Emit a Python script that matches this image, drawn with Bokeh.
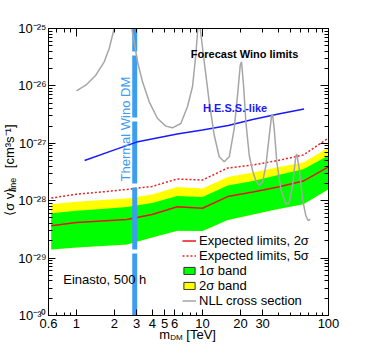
import math
from bokeh.plotting import figure
from bokeh.models import (Range1d, FixedTicker, CustomJSTickFormatter, LogAxis,
                          Legend, LegendItem, Label)
from bokeh.embed import file_html
from bokeh.resources import INLINE

# ---------------- data ----------------
mass = [0.631, 1.0, 1.585, 2.512, 3.981, 6.31, 10.0, 15.85, 25.12, 39.81, 63.1, 100.0]
exp_2sigma = [3.65e-29, 4.17e-29, 4.43e-29, 4.70e-29, 5.75e-29, 7.83e-29,
              7.40e-29, 1.18e-28, 1.42e-28, 1.73e-28, 2.20e-28, 3.87e-28]
exp_5sigma = [1.11e-28, 1.30e-28, 1.42e-28, 1.57e-28, 1.77e-28, 2.39e-28,
              2.29e-28, 3.71e-28, 4.19e-28, 5.02e-28, 6.25e-28, 1.24e-27]
band1_lo = [1.41e-29, 1.53e-29, 1.62e-29, 1.73e-29, 2.29e-29, 2.99e-29,
            2.97e-29, 4.61e-29, 5.75e-29, 7.17e-29, 8.69e-29, 1.59e-28]
band1_hi = [6.05e-29, 6.67e-29, 7.17e-29, 7.77e-29, 9.12e-29, 1.21e-28,
            1.16e-28, 1.84e-28, 2.20e-28, 2.80e-28, 3.54e-28, 6.13e-28]
band2_lo = [1.41e-29, 1.53e-29, 1.62e-29, 1.73e-29, 2.29e-29, 2.99e-29,
            2.97e-29, 4.61e-29, 5.75e-29, 7.17e-29, 8.69e-29, 1.59e-28]
band2_hi = [8.69e-29, 9.57e-29, 1.03e-28, 1.09e-28, 1.28e-28, 1.73e-28,
            1.63e-28, 2.59e-28, 3.10e-28, 3.82e-28, 4.63e-28, 8.45e-28]

hess_mass = [1.16, 2.0, 3.0, 6.3, 10.0, 16.0, 25.0, 40.0, 64.0]
hess_limit = [5.02e-28, 7.67e-28, 1.05e-27, 1.45e-27, 1.70e-27, 2.04e-27,
              2.60e-27, 3.24e-27, 3.96e-27]

nll_mass = [1.00, 1.186, 1.424, 1.661, 1.819, 1.932, 1.994, 2.32, 2.750, 2.873,
            3.051, 3.344, 3.779, 4.399, 5.120, 5.785, 6.733, 7.609, 8.339, 8.856,
            9.135, 9.305, 9.598, 10.33, 11.31, 12.40, 13.58, 14.88, 16.31, 17.86,
            18.98, 19.94, 20.41, 21.18, 22.09, 23.50, 24.96, 26.51, 28.21, 29.97,
            31.83, 33.87, 35.32, 35.97, 37.11, 38.92, 41.88, 45.87, 48.81, 51.84,
            55.06, 56.08, 58.61, 62.25, 66.12, 69.07, 71.65]
nll_sigma = [8.21e-27, 1.028e-26, 1.536e-26, 2.63e-26, 4.48e-26, 7.64e-26, 1.0e-25,
             3.0e-25, 1.0e-25, 5.87e-26, 2.63e-26, 1.178e-26, 5.28e-27, 2.70e-27,
             1.99e-27, 1.86e-27, 2.21e-27, 4.38e-27, 9.76e-27, 3.52e-26, 8.52e-26,
             2.0e-25, 1.0e-25, 2.63e-26, 5.28e-27, 1.38e-27, 5.82e-28, 4.76e-28,
             5.82e-28, 1.81e-27, 6.89e-27, 2.29e-26, 2.63e-26, 1.028e-26, 2.37e-27,
             6.20e-28, 3.36e-28, 2.22e-28, 1.86e-28, 2.08e-28, 4.06e-28, 1.35e-27,
             3.01e-27, 3.21e-27, 1.76e-27, 4.63e-28, 1.59e-28, 8.69e-29, 9.30e-29,
             1.82e-28, 6.06e-28, 6.46e-28, 3.54e-28, 1.06e-28, 5.46e-29, 4.47e-29,
             4.76e-29]

wino_mass = [2.9]
wino_lo = [1e-30]
wino_hi = [1e-25]

x_ticks = [0.6, 1, 2, 3, 4, 5, 6, 10, 20, 30, 100]
x_minor = [0.7, 0.8, 0.9, 7, 8, 9, 40, 50, 60, 70, 80, 90]
top_major = [1, 10, 100]
top_minor = [0.6, 0.7, 0.8, 0.9, 2, 3, 4, 5, 6, 7, 8, 9, 20, 30, 40, 50, 60, 70, 80, 90]
y_ticks = [1e-30, 1e-29, 1e-28, 1e-27, 1e-26, 1e-25]
y_minor = [k * 10.0 ** e for e in range(-30, -25) for k in range(2, 10)]

FONT = "Liberation Sans"
WINO_BLUE = "#3d9df0"

p = figure(frame_width=280, frame_height=287, x_axis_type="log", y_axis_type="log",
           x_range=Range1d(0.6, 100), y_range=Range1d(1e-30, 1e-25),
           output_backend="svg", toolbar_location=None,
           min_border_left=48, min_border_right=30, min_border_top=28, min_border_bottom=28)
p.grid.visible = False
p.outline_line_color = "black"
p.outline_line_width = 1
p.background_fill_color = "white"
p.border_fill_color = "white"

sup_code = """
const sup = {'-':'\u207b','0':'\u2070','1':'\u00b9','2':'\u00b2','3':'\u00b3','4':'\u2074',
             '5':'\u2075','6':'\u2076','7':'\u2077','8':'\u2078','9':'\u2079'};
const e = Math.round(Math.log10(tick));
return '10' + String(e).split('').map(c => sup[c]).join('');
"""

# bottom axis
xa = p.xaxis[0]
xa.ticker = FixedTicker(ticks=x_ticks, minor_ticks=x_minor)
xa.formatter = CustomJSTickFormatter(code="return String(Number(tick.toPrecision(3)));")
# left axis
ya = p.yaxis[0]
ya.ticker = FixedTicker(ticks=y_ticks, minor_ticks=y_minor)
ya.formatter = CustomJSTickFormatter(code=sup_code)
for ax, big in ((xa, 6), (ya, 7)):
    ax.major_tick_in = big
    ax.major_tick_out = 0
    ax.minor_tick_in = 3 if ax is xa else 4
    ax.minor_tick_out = 0
    ax.axis_line_color = "black"
    ax.major_tick_line_color = "black"
    ax.minor_tick_line_color = "black"
    ax.major_label_text_font = FONT
    ax.major_label_text_font_size = "13px"
    ax.major_label_text_color = "black"
xa.major_label_standoff = 3
ya.major_label_standoff = 2

empty = CustomJSTickFormatter(code="return '';")
top = LogAxis(ticker=FixedTicker(ticks=top_major, minor_ticks=top_minor), formatter=empty,
              major_tick_in=8, major_tick_out=0, minor_tick_in=4, minor_tick_out=0,
              major_label_standoff=0, major_label_text_font_size="0px",
              axis_line_color="black")
right = LogAxis(ticker=FixedTicker(ticks=y_ticks, minor_ticks=y_minor), formatter=empty,
                major_tick_in=8, major_tick_out=0, minor_tick_in=4, minor_tick_out=0,
                major_label_standoff=0, major_label_text_font_size="0px",
                axis_line_color="black")
p.add_layout(top, "above")
p.add_layout(right, "right")

# ---------------- glyphs ----------------
p.varea(x=mass, y1=band2_lo, y2=band2_hi, fill_color="#ffff00")
p.varea(x=mass, y1=band1_lo, y2=band1_hi, fill_color="#00ff00")
r2 = p.line(mass, exp_2sigma, line_color="#e8141a", line_width=1.5)
r5 = p.line(mass, exp_5sigma, line_color="#f02020", line_width=1.5, line_dash="2 2")
p.segment(x0=wino_mass, y0=wino_lo, x1=wino_mass, y1=wino_hi,
          line_color=WINO_BLUE, line_width=5, line_dash="62 4")
p.line(hess_mass, hess_limit, line_color="#1a1aff", line_width=1.5)
rn = p.line(nll_mass, nll_sigma, line_color="#a6a6a6", line_width=1.5)

# legend-only boxes (hidden renderers spanning the band data)
g1 = p.quad(left=[mass[0]], right=[mass[-1]], bottom=[band1_lo[0]], top=[band1_hi[-1]],
            fill_color="#00ff00", line_color="#333333")
g2 = p.quad(left=[mass[0]], right=[mass[-1]], bottom=[band2_lo[0]], top=[band2_hi[-1]],
            fill_color="#ffff00", line_color="#333333")
g1.visible = False
g2.visible = False

legend = Legend(items=[
    LegendItem(label="Expected limits, 2\u03c3", renderers=[r2]),
    LegendItem(label="Expected limits, 5\u03c3", renderers=[r5]),
    LegendItem(label="1\u03c3 band", renderers=[g1]),
    LegendItem(label="2\u03c3 band", renderers=[g2]),
    LegendItem(label="NLL cross section", renderers=[rn]),
], location=(134, 7), padding=0, margin=0, spacing=0, label_standoff=3,
   glyph_width=14, glyph_height=9, label_height=13,
   label_text_font=FONT, label_text_font_size="13px", label_text_color="black",
   background_fill_alpha=0, border_line_alpha=0, inactive_fill_alpha=0)
p.add_layout(legend, "center")

# ---------------- texts ----------------
def lab(x, y, text, size, place="center", **kw):
    p.add_layout(Label(x=x, y=y, text=text, text_font=FONT, text_font_size=size, **kw), place)

lab(8.08, 3.57e-26, "Forecast Wino limits", "11px", text_font_style="bold",
    text_baseline="middle", text_color="black")
lab(10.1, 4.09e-27, "H.E.S.S.-like", "11px", text_font_style="bold",
    text_baseline="middle", text_color="#1a1aff")
lab(0.785, 4.19e-30, "Einasto, 500 h", "13px", text_baseline="middle", text_color="black")
lab(2.47, 1.77e-27, "Thermal Wino DM", "13px", angle=math.pi / 2, text_align="center",
    text_baseline="middle", text_color=WINO_BLUE)

# Axis titles live in side panels with spare room, so the frame clip does not hide them.
# x axis title: m_DM [TeV]
XL_X, XL_Y = 4.54, 4.6e-31
lab(XL_X, XL_Y, "m\u2003\u2005[TeV]", "13px", place="above",
    text_baseline="alphabetic", text_color="black")
lab(XL_X, XL_Y, "DM", "8px", place="above", x_offset=11, y_offset=-3,
    text_baseline="alphabetic", text_color="black")

# y axis title: <sigma v>_line [cm^3 s^-1]
YL_X, YL_Y = 0.294, 5.46e-29
lab(YL_X, YL_Y, "\u27e8\u03c3 v\u27e9\u2003\u2002[cm\u00b3s\u207b\u00b9]", "13px", place="right",
    angle=math.pi / 2, text_baseline="alphabetic", text_color="black")
lab(YL_X, YL_Y, "line", "9px", place="right", angle=math.pi / 2, x_offset=4, y_offset=24,
    text_baseline="alphabetic", text_color="black")

open("out.html", "w").write(file_html(p, INLINE))
